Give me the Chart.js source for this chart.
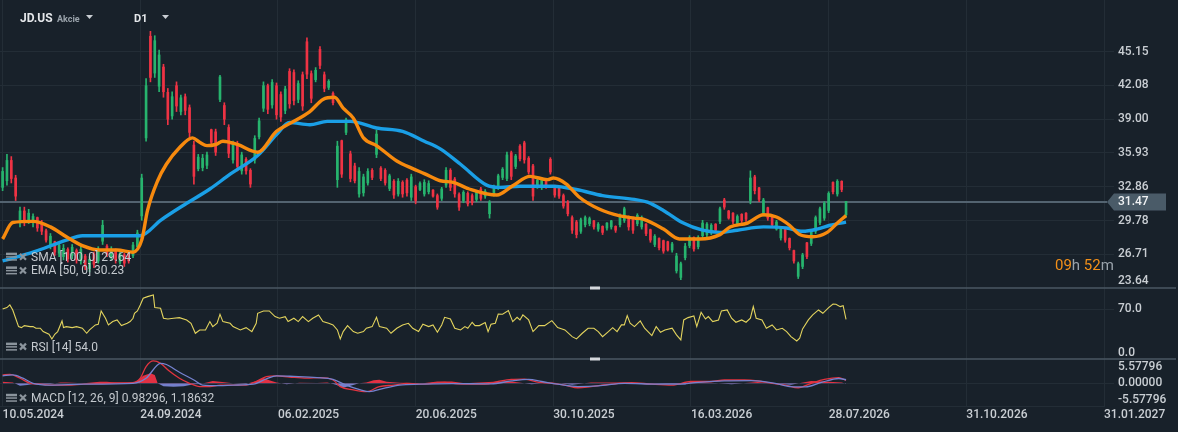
<!DOCTYPE html>
<html>
<head>
<meta charset="utf-8">
<script src="https://cdn.jsdelivr.net/npm/chart.js@4.4.1/dist/chart.umd.min.js"></script>
<style>
  html, body { margin: 0; padding: 0; background: #18212a; }
  #wrap { position: relative; width: 1178px; height: 432px; }
  canvas { display: block; }
</style>
</head>
<body>
<div id="wrap"><canvas id="grafico" width="1178" height="432" style="width:1178px;height:432px"></canvas></div>
<script>
// Datos del grafico
const dateLabels = ["10.05.2024", "24.09.2024", "06.02.2025", "20.06.2025", "30.10.2025", "16.03.2026", "28.07.2026", "31.10.2026", "31.01.2027"];
const dateTickIdx = [0, 95, 190, 285, 380, 475, 570, 665, 760];

const priceTicks = [45.15, 42.08, 39.00, 35.93, 32.86, 29.78, 26.71, 23.64];
const rsiTicks = [70, 0];
const macdTicks = [5.57796, 0, -5.57796];

const lastPrice = 31.47;
const candleStep = 3; // una vela cada 3 sesiones

const openP = [32.8,33.4,35.2,33.6,29.8,30.6,29.7,29.6,30.0,29.5,
  28.8,27.5,27.8,26.8,26.5,27.1,26.6,27.0,26.1,26.5,
  25.4,26.7,26.1,27.9,27.4,26.5,27.0,26.0,26.6,26.8,
  26.6,27.4,30.2,37.3,46.5,43.2,42.0,43.7,41.4,39.3,
  42.0,39.7,41.0,40.0,36.6,34.5,34.6,34.8,38.0,37.8,
  40.8,40.2,38.2,35.3,36.7,34.3,35.3,34.3,35.3,37.4,
  40.0,42.0,40.3,42.0,41.2,39.8,43.3,43.2,40.8,43.0,
  46.0,43.1,42.6,45.3,43.0,41.9,41.3,33.5,37.0,37.8,
  35.8,34.7,32.2,32.3,33.2,34.3,35.8,34.5,34.3,32.7,
  33.3,32.2,33.2,33.4,31.9,32.8,32.6,32.2,32.4,32.5,
  32.0,31.8,33.0,34.3,33.5,32.1,31.6,32.2,32.0,31.7,
  32.6,32.0,30.4,32.2,32.8,33.7,33.6,35.9,34.7,36.5,
  36.8,35.4,34.7,32.9,32.8,33.4,35.3,32.9,32.8,32.0,
  31.4,30.0,29.6,28.8,29.4,29.5,29.7,29.0,29.2,29.1,
  29.2,29.2,29.4,29.8,30.0,29.9,29.5,29.2,29.4,28.9,
  27.6,28.1,27.9,27.8,27.1,25.2,24.6,26.4,27.5,28.2,
  27.4,28.4,28.5,28.7,29.4,29.7,31.6,30.6,30.4,29.5,
  30.3,30.4,31.6,33.7,32.7,30.4,30.9,30.1,29.0,28.2,
  28.9,28.1,27.0,24.7,25.6,27.7,27.7,28.8,29.6,30.0,
  30.7,33.2,32.2,33.3,30.3];
const highP = [34.6,35.8,35.6,33.9,31.0,31.0,30.8,30.4,30.1,29.8,
  29.0,28.6,27.9,27.8,27.6,27.3,27.6,27.2,27.5,26.7,
  26.5,26.9,27.4,29.8,27.6,27.4,27.2,27.0,26.8,27.0,
  27.8,28.9,34.0,42.7,47.0,46.6,45.3,44.0,41.8,41.5,
  42.4,41.2,41.3,40.3,37.0,35.8,35.8,36.0,38.1,38.1,
  43.0,40.5,38.5,37.0,37.0,36.0,35.5,34.5,37.5,39.1,
  42.4,42.2,42.6,42.3,41.5,42.0,43.6,43.5,42.5,43.3,
  46.4,43.4,43.7,45.6,43.3,42.6,41.5,37.0,37.1,39.1,
  36.1,35.0,34.6,34.0,34.5,34.5,38.0,34.7,34.5,34.0,
  33.5,33.6,33.4,33.6,34.0,33.0,33.3,33.5,33.4,32.6,
  32.2,32.8,34.6,34.5,33.7,32.3,32.5,32.4,32.2,32.5,
  32.8,32.6,31.6,33.0,34.0,34.6,36.0,36.1,35.8,36.7,
  37.0,35.6,34.9,33.6,33.7,33.5,35.5,33.0,32.9,32.2,
  31.6,30.2,29.8,30.0,30.2,30.1,29.8,29.6,29.3,29.6,
  29.8,29.3,30.4,31.0,30.2,30.1,30.4,30.2,29.5,29.0,
  28.5,28.2,28.0,27.9,27.8,26.8,26.0,27.7,28.4,28.3,
  28.4,29.8,29.6,29.5,29.5,31.0,31.8,30.7,30.5,30.3,
  30.4,30.5,34.3,33.9,32.8,31.8,31.0,30.2,29.8,29.2,
  29.0,28.2,27.1,26.0,26.8,27.8,28.9,30.2,31.0,31.5,
  32.4,33.3,33.5,33.4,31.5];
const lowP = [32.5,33.0,33.2,31.6,29.2,29.3,29.5,29.2,28.8,28.5,
  27.8,27.2,26.6,26.5,26.2,26.0,26.3,25.9,25.8,25.3,
  25.1,25.5,25.9,27.6,26.5,26.2,25.9,25.8,25.6,25.9,
  26.4,27.2,29.8,37.0,42.4,42.8,41.5,41.0,38.5,39.0,
  39.7,39.4,39.4,37.3,33.1,34.3,34.3,34.5,36.7,35.7,
  40.6,38.5,35.5,35.0,34.3,34.0,34.0,32.8,35.0,37.2,
  39.7,39.5,40.0,39.0,38.8,39.5,40.0,40.3,40.5,39.8,
  42.7,40.5,42.4,43.6,41.5,41.7,40.3,32.8,33.7,37.6,
  33.3,33.2,31.9,32.0,33.0,33.5,35.5,33.4,33.0,32.5,
  31.8,32.0,31.9,32.0,31.6,31.3,32.5,32.0,32.2,31.9,
  30.8,31.6,32.8,32.5,31.9,30.7,31.4,31.1,31.2,31.5,
  31.6,31.8,30.0,32.0,32.6,33.5,33.4,33.5,34.5,35.2,
  35.0,34.0,31.6,32.7,32.6,32.7,34.0,31.9,31.8,30.9,
  30.2,28.6,28.2,28.6,29.2,29.3,29.0,28.8,28.5,28.9,
  29.0,28.7,29.2,29.6,28.9,28.6,29.3,29.0,28.4,27.8,
  27.4,27.1,26.8,27.0,26.9,25.0,24.4,26.2,27.3,27.0,
  27.2,28.2,28.3,28.5,28.8,29.5,30.8,29.9,29.5,29.3,
  29.6,29.7,31.3,32.2,31.5,30.2,29.8,29.2,28.9,28.0,
  27.8,27.1,25.9,24.5,25.4,26.3,27.5,28.6,29.4,29.8,
  30.5,32.2,32.0,32.4,30.1];
const closeP = [34.2,35.2,33.6,32.0,30.6,29.7,30.4,30.1,29.1,28.8,
  28.0,28.3,26.9,27.5,27.2,26.3,27.3,26.2,27.1,25.6,
  26.2,25.8,27.1,29.3,26.7,27.1,26.2,26.7,25.9,26.1,
  27.5,28.6,33.6,42.0,42.8,46.1,44.8,41.5,39.0,41.0,
  40.2,40.9,39.8,37.8,33.8,35.5,35.4,35.7,36.9,36.0,
  42.8,39.0,35.9,36.7,34.7,35.7,34.3,33.1,37.2,38.8,
  42.0,39.9,42.3,39.4,39.2,41.7,40.4,40.7,42.2,40.2,
  43.1,40.9,43.4,43.9,41.8,42.4,40.5,36.5,34.0,38.9,
  33.6,33.4,34.2,33.7,34.2,33.7,37.6,33.6,33.2,33.8,
  32.1,33.3,32.2,32.3,33.7,31.6,33.1,33.2,33.1,32.0,
  31.0,32.6,34.3,32.8,32.2,31.0,32.3,31.3,31.4,32.3,
  31.8,32.4,31.4,32.8,33.8,34.4,35.7,33.8,35.6,35.4,
  35.3,34.2,32.0,33.4,33.5,32.9,34.2,32.1,32.0,31.1,
  30.4,28.9,28.5,29.8,30.0,29.9,29.2,29.4,28.7,29.5,
  29.7,28.9,30.2,30.8,29.2,28.9,30.2,30.0,28.6,28.0,
  28.3,27.3,27.0,27.1,27.6,26.5,25.8,27.4,28.2,27.2,
  28.2,29.5,29.4,29.3,28.9,30.8,31.0,30.0,29.7,30.1,
  29.8,29.9,33.6,32.5,31.7,31.6,30.0,29.4,29.6,29.0,
  28.0,27.3,26.1,25.8,26.6,26.5,28.7,30.0,30.8,31.3,
  32.2,32.4,33.3,32.6,31.47];

// Medias moviles
const smaIdx = [0,21,44,55,67,95,109,124,143,157,176,189,198,212,224,240,258,276,291,302,316,334,343,357,380,396,414,436,445,456,469,483,495,507,525,541,552,562,571,582];
const smaVals = [26.1,26.9,28.0,28.4,28.4,28.4,29.8,31.1,32.65,34.0,35.7,37.6,38.7,38.5,38.8,38.8,38.2,37.9,37.0,36.3,34.9,33.0,32.8,32.9,32.9,32.6,32.05,31.7,31.45,30.7,29.6,28.9,28.7,28.9,29.2,29.1,28.8,29.0,29.35,29.64];
const emaIdx = [0,7,21,33,44,55,67,79,90,96,100,107,113,122,131,136,141,147,152,162,176,189,198,212,221,229,235,242,249,258,272,283,291,302,311,322,341,352,364,376,380,389,398,412,426,436,442,456,467,481,495,502,514,525,534,543,550,559,569,576,582];
const emaVals = [28.1,29.6,29.7,29.2,28.3,27.5,27.1,27.1,26.9,28.0,30.7,33.4,34.9,36.4,37.3,36.9,36.6,36.7,37.0,36.7,36.0,37.9,38.6,39.7,40.8,41.0,40.0,39.1,37.3,36.6,35.2,34.5,34.05,33.4,33.25,32.65,32.1,32.95,33.8,33.5,33.65,33.1,31.9,30.8,30.2,30.0,29.9,29.0,28.1,28.1,28.5,29.2,29.55,30.3,30.1,29.35,28.5,28.3,28.7,29.55,30.23];

// RSI [14]
const rsiIdx = [0,3,5,7,9,11,13,15,19,21,23,26,28,32,34,36,38,41,42,44,48,51,55,58,60,64,66,68,71,73,76,79,82,86,88,90,91,93,95,97,100,104,105,109,111,114,118,122,127,130,133,136,140,143,145,148,150,152,157,159,164,168,172,175,176,180,184,188,191,195,197,201,204,207,211,214,218,221,225,228,231,233,235,238,242,245,249,251,255,258,260,265,268,272,276,280,283,287,290,
  294,297,300,303,305,309,312,316,319,321,324,326,329,333,335,337,340,342,345,349,352,355,357,359,363,366,370,374,379,383,388,393,396,400,404,408,411,414,418,421,424,427,429,431,433,436,440,443,448,451,454,457,462,465,468,470,473,477,479,482,485,487,490,494,496,500,503,506,510,513,516,518,520,524,527,531,534,538,541,544,548,550,552,556,559,563,566,570,573,575,578,580,582];
const rsiVals = [70.5,72.6,76.9,68.9,55.7,42.4,40.8,44.0,42.4,42.4,39.8,39.8,34.5,30.2,22.8,30.2,34.5,51.4,40.8,42.4,40.8,42.4,39.8,31.8,37.1,45.1,46.1,67.3,55.7,45.1,50.4,53.0,44.0,47.7,50.4,55.7,63.6,67.3,76.9,87.5,90.1,92.8,72.6,71.6,55.7,54.6,55.7,56.7,53.0,47.7,31.8,37.1,37.1,50.4,42.4,47.7,62.0,50.4,47.7,42.4,37.1,40.8,34.5,47.7,63.6,67.3,67.3,58.3,55.7,58.3,50.4,55.7,50.4,58.3,50.4,55.7,61.0,50.4,47.7,45.1,37.1,22.8,34.5,44.0,34.5,31.8,34.5,39.8,42.4,57.2,42.4,39.8,31.8,39.8,45.1,47.7,39.8,34.5,46.1,
  42.4,45.1,33.4,45.1,57.2,54.6,39.8,37.1,42.4,39.8,49.3,44.0,44.0,48.8,34.5,46.1,47.7,62.5,62.0,67.8,50.4,57.2,53.0,61.0,53.0,34.5,44.0,44.0,51.9,40.8,37.1,26.5,22.8,31.8,39.8,39.8,34.5,26.5,34.5,40.8,34.5,45.1,45.1,59.9,47.7,42.4,51.4,39.8,28.1,42.4,33.4,37.1,39.8,29.2,21.2,53.0,56.7,59.4,42.4,65.2,54.6,58.3,50.4,53.0,67.3,68.9,55.7,49.3,53.0,49.3,55.7,74.2,55.7,53.0,39.8,45.1,37.1,39.8,34.5,26.5,19.6,23.9,38.7,53.0,61.0,68.9,63.6,72.6,78.4,77.9,74.2,75.8,54.0];

// MACD [12, 26, 9]
const macdIdx = [0,5,12,19,26,35,44,56,67,79,90,95,99,104,109,115,122,129,136,143,150,159,168,175,182,189,198,210,219,228,233,242,251,260,270,279,288,
  305,314,333,342,351,360,370,379,388,397,406,420,434,448,462,475,489,498,512,521,531,540,549,558,567,577,582];
const macdVals = [2.8,3.0,1.7,0,-0.3,-0.6,-0.6,-0.3,-0.1,0.1,0.2,1.7,5.6,7.5,6.7,4.1,1.7,0,-1.1,-1.1,-0.6,-0.6,-0.6,0.6,2.2,2.5,2.1,1.7,1.9,1.1,-1.1,-2.2,-2.8,-1.1,-0.6,0,-0.3,
  0.3,-0.2,-0.3,0.6,1.3,1.4,0.3,0,-0.6,-1.5,-1.1,-0.3,0.2,-0.3,-0.6,0.6,0.6,1.1,1.1,0.8,0,-0.6,-1.5,0,1.3,1.9,0.98];
const signalIdx = [0,7,14,21,33,56,90,99,109,113,122,132,138,150,159,173,182,189,201,217,228,237,247,253,263,274,288,
  310,337,351,363,372,383,397,411,429,452,466,480,498,517,533,544,554,565,577,582];
const signalVals = [2.5,2.8,1.7,0,-0.6,-0.3,0,1.7,6.7,6.3,3.7,1.1,-0.6,-0.8,-0.6,-0.3,1.5,2.5,2.3,1.9,1.3,-0.6,-2.2,-2.8,-1.7,-0.6,-0.3,
  -0.1,-0.2,0.8,1.3,0.6,-0.3,-1.1,-0.9,0,-0.3,-0.3,0.3,0.8,0.9,0,-1.1,-1.2,0.3,1.6,1.19];
const histIdx = [0,7,12,17,21,33,40,44,56,67,72,79,90,93,97,102,105,107,111,118,125,132,136,141,145,150,159,168,175,180,184,189,196,205,217,224,230,235,240,246,251,256,260,265,274,283,290,
  300,310,319,342,351,360,365,379,393,406,425,439,471,475,489,503,521,544,558,567,579,582];
const histVals = [0.5,0.3,-0.8,-0.6,-0.2,-0.2,0.3,0.3,0,0.5,0.5,0.2,0.2,0.8,2.5,3.4,2.8,0,-1.0,-1.2,-1.0,-0.3,-0.2,0.3,0.8,0.5,0,-0.2,0.8,1.8,1.0,0.3,-0.3,0.2,0.1,0.3,-0.5,-1.5,-0.8,0,0.3,1.0,1.2,0.5,0.2,0.1,0,
  0.6,0.6,0,0.6,0.6,0,-0.3,0.3,-0.5,0.3,0.3,0,-0.4,0.5,0.2,-0.3,0.4,-0.5,0.8,0.6,0.3,-0.2];

// Colores
const FONDO = "#18212a";
const REJILLA = "#232d36";
const TEXTO = "#c9ced3";
const ALZA = "#27b46e";
const BAJA = "#ee3344";
const FUENTE = "Roboto, 'Noto Sans', sans-serif";

// Construir series para la libreria
const candleIdx = closeP.map((_, k) => k * candleStep);
const wickData = candleIdx.map((x, k) => ({ x: x, y: [lowP[k], highP[k]] }));
const bodyData = candleIdx.map((x, k) => ({ x: x, y: [Math.min(openP[k], closeP[k]), Math.max(openP[k], closeP[k]) + 0.05] }));
const candleColors = closeP.map((c, k) => (c >= openP[k] ? ALZA : BAJA));
const puntos = (idx, vals) => idx.map((x, k) => ({ x: x, y: vals[k] }));

// Dibujo de textos, separadores y etiqueta de precio
const decoraciones = {
  id: "decoraciones",
  beforeDatasetsDraw(chart) {
    const { ctx, chartArea, scales } = chart;
    const yp = scales.y.getPixelForValue(lastPrice);
    ctx.save();
    ctx.strokeStyle = "#536370";
    ctx.lineWidth = 2;
    ctx.beginPath();
    ctx.moveTo(chartArea.left, yp);
    ctx.lineTo(chartArea.right + 3, yp);
    ctx.stroke();
    ctx.restore();
  },
  afterDraw(chart) {
    const { ctx, chartArea, scales } = chart;
    ctx.save();

    // separadores de paneles
    [scales.y.bottom, scales.yr.bottom].forEach(ys => {
      ctx.strokeStyle = "#4a5763";
      ctx.lineWidth = 1.5;
      ctx.beginPath();
      ctx.moveTo(0, ys);
      ctx.lineTo(chart.width - 2, ys);
      ctx.stroke();
      ctx.fillStyle = "#d4d8dc";
      ctx.fillRect(590, ys - 1.5, 10, 3);
    });

    // etiqueta del ultimo precio
    const yp = scales.y.getPixelForValue(lastPrice);
    const x0 = chartArea.right + 3;
    ctx.fillStyle = "#4a5b68";
    ctx.beginPath();
    ctx.moveTo(x0, yp);
    ctx.lineTo(x0 + 7, yp - 8.5);
    ctx.lineTo(x0 + 59, yp - 8.5);
    ctx.lineTo(x0 + 59, yp + 8.5);
    ctx.lineTo(x0 + 7, yp + 8.5);
    ctx.closePath();
    ctx.fill();
    ctx.fillStyle = "#f0f2f4";
    ctx.font = "500 12px " + FUENTE;
    ctx.textBaseline = "middle";
    ctx.textAlign = "left";
    ctx.fillText(lastPrice.toFixed(2), x0 + 11, yp + 0.5);

    // cuenta atras
    ctx.font = "15px " + FUENTE;
    let cx = chartArea.right - 49;
    const cy = scales.y.getPixelForValue(25.6);
    [["09", "#f39019"], ["h ", "#9aa3ab"], ["52", "#f39019"], ["m", "#9aa3ab"]].forEach(([t, c]) => {
      ctx.fillStyle = c;
      ctx.fillText(t, cx, cy);
      cx += ctx.measureText(t).width;
    });

    // cabecera
    ctx.fillStyle = "#e4e7ea";
    ctx.font = "bold 12px " + FUENTE;
    ctx.fillText("JD.US", 20, 19);
    ctx.fillStyle = "#9aa3ab";
    ctx.font = "bold 9px " + FUENTE;
    ctx.fillText("Akcie", 57, 19.5);
    ctx.fillStyle = "#e4e7ea";
    ctx.font = "bold 11px " + FUENTE;
    ctx.fillText("D1", 134, 19.5);
    ctx.fillStyle = "#c9ced3";
    [86, 162].forEach(tx => {
      ctx.beginPath();
      ctx.moveTo(tx, 15);
      ctx.lineTo(tx + 7, 15);
      ctx.lineTo(tx + 3.5, 19);
      ctx.closePath();
      ctx.fill();
    });

    // leyendas de indicadores
    const leyendas = [
      ["SMA [100, 0] 29.64", scales.y.getPixelForValue(26.4)],
      ["EMA [50, 0] 30.23", scales.y.getPixelForValue(25.15)],
      ["RSI [14] 54.0", scales.yr.getPixelForValue(9)],
      ["MACD [12, 26, 9] 0.98296, 1.18632", scales.ym.getPixelForValue(-5.2)]
    ];
    leyendas.forEach(([t, ly]) => {
      ctx.fillStyle = "#8b949c";
      ctx.fillRect(6, ly - 5, 11, 2.5);
      ctx.fillRect(6, ly - 1.5, 11, 1.5);
      ctx.fillRect(6, ly + 1.5, 11, 1.5);
      ctx.strokeStyle = "#8b949c";
      ctx.lineWidth = 2.2;
      ctx.beginPath();
      ctx.moveTo(20, ly - 4); ctx.lineTo(26, ly + 2);
      ctx.moveTo(26, ly - 4); ctx.lineTo(20, ly + 2);
      ctx.stroke();
      ctx.fillStyle = "#c4c9ce";
      ctx.font = "12px " + FUENTE;
      ctx.fillText(t, 31, ly);
    });
    ctx.restore();
  }
};

const ejeY = (ticks, stackWeight, min, max, fmt, gridOk) => ({
  type: "linear",
  position: "right",
  stack: "paneles",
  stackWeight: stackWeight,
  min: min,
  max: max,
  bounds: "data",
  afterBuildTicks: s => { s.ticks = ticks.map(v => ({ value: v })); },
  afterFit: s => { s.width = 74; s.paddingTop = 0; s.paddingBottom = 0; },
  border: { display: false },
  grid: {
    color: ctx => (gridOk(ctx.tick.value) ? REJILLA : "rgba(0,0,0,0)"),
    tickLength: 10,
    lineWidth: 1
  },
  ticks: {
    autoSkip: false,
    padding: 4,
    color: TEXTO,
    font: { family: FUENTE, size: 12, weight: "500" },
    callback: v => fmt(v)
  }
});

new Chart(document.getElementById("grafico"), {
  type: "bar",
  data: {
    datasets: [
      { type: "bar", data: wickData, backgroundColor: candleColors, barThickness: 1, grouped: false, yAxisID: "y", order: 6 },
      { type: "bar", data: bodyData, backgroundColor: candleColors, barThickness: 2, grouped: false, yAxisID: "y", order: 5 },
      { type: "line", data: puntos(smaIdx, smaVals), borderColor: "#1a9fe6", borderWidth: 3.4, pointRadius: 0, cubicInterpolationMode: "monotone", yAxisID: "y", order: 2 },
      { type: "line", data: puntos(emaIdx, emaVals), borderColor: "#f78a0e", borderWidth: 3.4, pointRadius: 0, cubicInterpolationMode: "monotone", yAxisID: "y", order: 1 },
      { type: "line", data: puntos(rsiIdx, rsiVals), borderColor: "#e3d45e", borderWidth: 1.1, pointRadius: 0, tension: 0, yAxisID: "yr", order: 1 },
      { type: "line", data: puntos(histIdx, histVals), borderWidth: 0, pointRadius: 0, tension: 0, yAxisID: "ym", order: 4,
        fill: { target: { value: 0 }, above: "rgba(238,51,68,0.95)", below: "rgba(122,134,214,0.95)" } },
      { type: "line", data: puntos(macdIdx, macdVals), borderColor: "#e2333f", borderWidth: 1.3, pointRadius: 0, cubicInterpolationMode: "monotone", yAxisID: "ym", order: 3 },
      { type: "line", data: puntos(signalIdx, signalVals), borderColor: "#7582cf", borderWidth: 1.3, pointRadius: 0, cubicInterpolationMode: "monotone", yAxisID: "ym", order: 2 }
    ]
  },
  options: {
    responsive: false,
    animation: false,
    layout: { padding: 0 },
    plugins: { legend: { display: false }, tooltip: { enabled: false } },
    scales: {
      x: {
        type: "linear",
        min: -1.8,
        max: 760,
        bounds: "data",
        offset: false,
        afterBuildTicks: s => { s.ticks = dateTickIdx.map(v => ({ value: v })); },
        afterFit: s => { s.height = 26; s.paddingLeft = 0; s.paddingRight = 0; },
        border: { color: REJILLA },
        grid: { color: REJILLA, offset: false, drawTicks: false },
        ticks: {
          align: "start",
          autoSkip: false,
          maxRotation: 0,
          padding: 2,
          color: TEXTO,
          font: { family: FUENTE, size: 12, weight: "500" },
          callback: (v, i) => dateLabels[i]
        }
      },
      // la etiqueta inferior se sube media linea para no pisar el separador
      y: ejeY(priceTicks, 288, 23.64, 49.85, v => (v < 24 ? [v.toFixed(2), ""] : v.toFixed(2)), v => v > 24),
      yr: ejeY(rsiTicks, 71, -9.1, 103.8, v => v.toFixed(1), v => v === 70),
      ym: ejeY(macdTicks, 47, -7.62, 8.15, v => v.toFixed(5), v => v === 0)
    }
  },
  plugins: [decoraciones]
});
</script>
</body>
</html>
